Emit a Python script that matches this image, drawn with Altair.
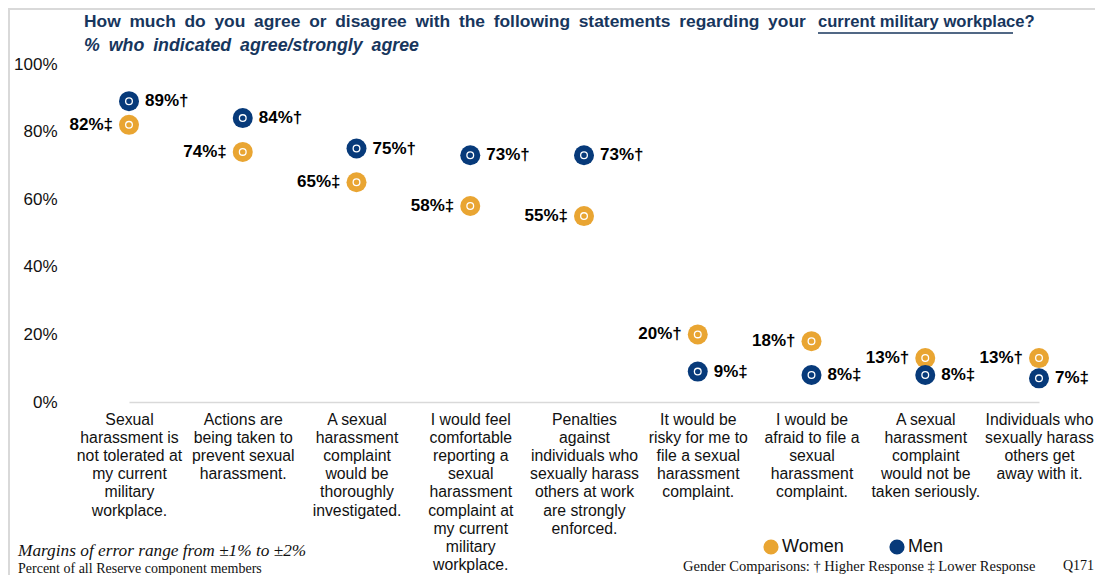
import altair as alt
import pandas as pd

categories = [
    "Sexual|harassment is|not tolerated at|my current|military|workplace.",
    "Actions are|being taken to|prevent sexual|harassment.",
    "A sexual|harassment|complaint|would be|thoroughly|investigated.",
    "I would feel|comfortable|reporting a|sexual|harassment|complaint at|my current|military|workplace.",
    "Penalties|against|individuals who|sexually harass|others at work|are strongly|enforced.",
    "It would be|risky for me to|file a sexual|harassment|complaint.",
    "I would be|afraid to file a|sexual|harassment|complaint.",
    "A sexual|harassment|complaint|would not be|taken seriously.",
    "Individuals who|sexually harass|others get|away with it.",
]
women = [82, 74, 65, 58, 55, 20, 18, 13, 13]
women_sig = ["‡", "‡", "‡", "‡", "‡", "†", "†", "†", "†"]
men = [89, 84, 75, 73, 73, 9, 8, 8, 7]
men_sig = ["†", "†", "†", "†", "†", "‡", "‡", "‡", "‡"]
y_ticks = [0, 20, 40, 60, 80, 100]

GOLD = "#E9A532"
NAVY = "#073A7A"
TITLE_COLOR = "#17365D"
FONT = "Liberation Sans"
SERIF = "Liberation Serif"
SP = "\u2002"

rows = []
for c, w, ws, m, ms in zip(categories, women, women_sig, men, men_sig):
    rows.append({"cat": c, "Gender": "Women", "value": w, "label": f"{w}%{ws}"})
    rows.append({"cat": c, "Gender": "Men", "value": m, "label": f"{m}%{ms}"})
df = pd.DataFrame(rows)

x = alt.X("cat:N", sort=categories,
          scale=alt.Scale(type="point", padding=0, range=[56, 966]),
          axis=alt.Axis(title=None, labelExpr="split(datum.label, '|')", labelAngle=0,
                        labelFont=FONT, labelFontSize=15.8, labelColor="#111111",
                        labelLineHeight=18.2, labelPadding=10, labelBaseline="top",
                        ticks=False, domainColor="#D9D9D9", domainWidth=1.5,
                        labelLimit=200, grid=False))
y = alt.Y("value:Q", scale=alt.Scale(domain=[0, 100], nice=False),
          axis=alt.Axis(title=None, values=y_ticks, labelExpr="datum.value + '%'",
                        domain=False, ticks=False, grid=False, labelPadding=16,
                        labelFont=FONT, labelFontSize=17, labelColor="#111111"))

base = alt.Chart(df).encode(x=x, y=y)

dots = base.mark_point(filled=True, size=400, opacity=1, shape="circle").encode(
    color=alt.Color("Gender:N", scale=alt.Scale(domain=["Women", "Men"], range=[GOLD, NAVY]),
                    legend=alt.Legend(orient="none", legendX=689, legendY=474,
                                      direction="horizontal", title=None,
                                      symbolType="circle", symbolSize=230,
                                      symbolStrokeWidth=0, symbolOpacity=1,
                                      labelFont=FONT, labelFontSize=18,
                                      labelColor="#111111", columnPadding=44,
                                      labelOffset=2))
)
rings = base.mark_point(filled=False, size=45, opacity=1, shape="circle",
                        color="white", strokeWidth=1.3)

women_text = base.transform_filter(alt.datum.Gender == "Women").mark_text(
    align="right", baseline="middle", dx=-16, font=FONT, fontSize=17,
    fontWeight="bold", color="#000000").encode(text="label:N")
men_text = base.transform_filter(alt.datum.Gender == "Men").mark_text(
    align="left", baseline="middle", dx=16, font=FONT, fontSize=17,
    fontWeight="bold", color="#000000").encode(text="label:N")

one = pd.DataFrame({"a": [0]})

def note(text, xv, yv, font, size, weight="normal", style="normal", color="#111111", align="left"):
    return alt.Chart(one).mark_text(text=text, align=align, baseline="middle", font=font,
                                    fontSize=size, fontWeight=weight, fontStyle=style,
                                    color=color).encode(x=alt.value(xv), y=alt.value(yv))

title_a = "How much do you agree or disagree with the following statements regarding your"
title_b = "current military workplace?"
subtitle_text = "% who indicated agree/strongly agree"
title1 = note(title_a.replace(" ", SP), 11, -42, FONT, 17.4, weight="bold", color=TITLE_COLOR)
title2 = note(title_b, 745, -42, FONT, 16.6, weight="bold", color=TITLE_COLOR)
subtitle = note(subtitle_text.replace(" ", SP), 11, -18, FONT, 17.8,
                weight="bold", style="italic", color=TITLE_COLOR)
underline = alt.Chart(one).mark_rule(color=TITLE_COLOR, strokeWidth=1.3).encode(
    x=alt.value(745), x2=alt.value(940), y=alt.value(-31))

moe = note("Margins of error range from ±1% to ±2%", -55, 487, SERIF, 17.3, style="italic")
pct = note("Percent of all  Reserve component members", -55, 505, SERIF, 14)
gender = note("Gender Comparisons:  † Higher  Response   ‡ Lower Response", 610, 503, SERIF, 14.5)
q = note("Q171", 1021, 502, SERIF, 14, align="right")

frame_top = alt.Chart(one).mark_rule(color="#D9D9D9", strokeWidth=2).encode(
    x=alt.value(-65), x2=alt.value(1030), y=alt.value(-55))
frame_left = alt.Chart(one).mark_rule(color="#D9D9D9", strokeWidth=2).encode(
    x=alt.value(-64), y=alt.value(-56), y2=alt.value(520))

chart = alt.layer(
    frame_top, frame_left, dots, rings, women_text, men_text,
    title1, title2, subtitle, underline, moe, pct, gender, q
).properties(
    width=1022, height=338,
    padding={"left": 65, "top": 56, "right": 0, "bottom": 173},
    autosize=alt.AutoSizeParams(type="none"),
).configure_view(stroke=None)

chart.save("out.html", embed_options={"renderer": "svg", "actions": False})
